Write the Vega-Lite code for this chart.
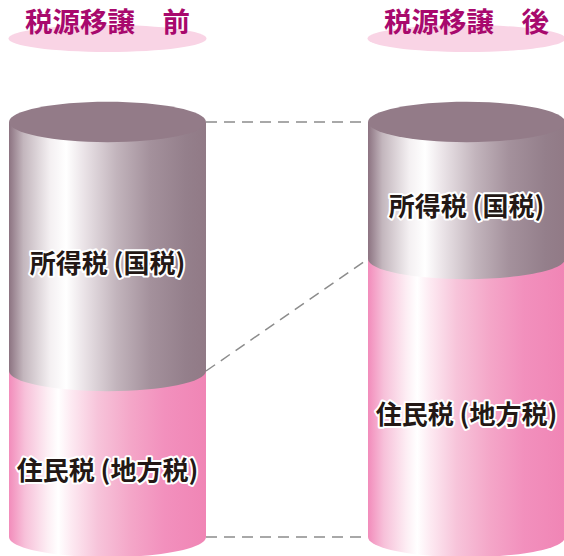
{
  "$schema": "https://vega.github.io/schema/vega-lite/v6.json",
  "width": 564,
  "height": 556,
  "autosize": "none",
  "padding": 0,
  "background": "white",
  "config": {"view": {"stroke": null}},
  "datasets": {
    "taxes": [
      {"stage": "before", "stageLabel": "税源移譲　前", "pos": 0, "kind": "local", "tax": "住民税 (地方税) ", "order": 1, "share": 40},
      {"stage": "before", "stageLabel": "税源移譲　前", "pos": 0, "kind": "national", "tax": "所得税 (国税) ", "order": 2, "share": 60},
      {"stage": "after", "stageLabel": "税源移譲　後", "pos": 1, "kind": "local", "tax": "住民税 (地方税) ", "order": 1, "share": 67},
      {"stage": "after", "stageLabel": "税源移譲　後", "pos": 1, "kind": "national", "tax": "所得税 (国税) ", "order": 2, "share": 33}
    ]
  },
  "data": {"name": "taxes"},
  "transform": [
    {"stack": "share", "groupby": ["stage"], "sort": [{"field": "order"}], "as": ["y0", "y1"]}
  ],
  "layer": [
    {
      "transform": [
        {"fold": ["y0", "y1"], "as": ["edge", "level"]},
        {"filter": "!(datum.kind === 'local' && datum.edge === 'y1')"},
        {"pivot": "stage", "value": "level", "groupby": ["kind", "edge"]}
      ],
      "mark": {"type": "rule", "stroke": "#8c8c8c", "strokeWidth": 1.5, "strokeDash": [11, 7], "xOffset": 98.5, "x2Offset": -98.5},
      "encoding": {
        "x": {"datum": 0, "type": "quantitative", "scale": {"domain": [0, 1], "range": [107.5, 466.5], "padding": 0, "nice": false, "zero": false}, "axis": null},
        "x2": {"datum": 1},
        "y": {"field": "before", "type": "quantitative", "scale": {"domain": [0, 100], "range": [537, 122], "padding": 0, "nice": false, "zero": false}, "axis": null},
        "y2": {"field": "after"}
      }
    },
    {
      "transform": [{"filter": "datum.kind === 'local'"}],
      "mark": {"type": "bar", "width": 197, "fill": {"gradient": "linear", "x1": 0, "x2": 1, "y1": 0, "y2": 0, "stops": [
        {"offset": 0, "color": "#f28cbb"}, {"offset": 0.08, "color": "#f7c0d9"}, {"offset": 0.196, "color": "#fdeef4"},
        {"offset": 0.25, "color": "#ffffff"}, {"offset": 0.315, "color": "#fdeaf2"}, {"offset": 0.45, "color": "#f7c4da"},
        {"offset": 0.62, "color": "#f4a6c8"}, {"offset": 0.79, "color": "#f290bd"}, {"offset": 1, "color": "#f085b5"}]}},
      "encoding": {
        "x": {"field": "pos", "type": "quantitative"},
        "y": {"field": "y0", "type": "quantitative"},
        "y2": {"field": "y1"}
      }
    },
    {
      "transform": [{"filter": "datum.kind === 'local'"}],
      "mark": {"type": "point", "filled": true, "opacity": 1, "strokeWidth": 0, "size": 38809,
        "shape": "M -1 0 C -1 -0.1133 -0.5523 -0.205 0 -0.205 C 0.5523 -0.205 1 -0.1133 1 0 C 1 0.1133 0.5523 0.205 0 0.205 C -0.5523 0.205 -1 0.1133 -1 0 Z",
        "fill": {"gradient": "linear", "x1": 0, "x2": 1, "y1": 0, "y2": 0, "stops": [
        {"offset": 0, "color": "#f28cbb"}, {"offset": 0.08, "color": "#f7c0d9"}, {"offset": 0.196, "color": "#fdeef4"},
        {"offset": 0.25, "color": "#ffffff"}, {"offset": 0.315, "color": "#fdeaf2"}, {"offset": 0.45, "color": "#f7c4da"},
        {"offset": 0.62, "color": "#f4a6c8"}, {"offset": 0.79, "color": "#f290bd"}, {"offset": 1, "color": "#f085b5"}]}},
      "encoding": {
        "x": {"field": "pos", "type": "quantitative"},
        "y": {"field": "y0", "type": "quantitative"}
      }
    },
    {
      "transform": [{"filter": "datum.kind === 'national'"}],
      "mark": {"type": "bar", "width": 197, "fill": {"gradient": "linear", "x1": 0, "x2": 1, "y1": 0, "y2": 0, "stops": [
        {"offset": 0, "color": "#8c7381"}, {"offset": 0.073, "color": "#c3b6bd"}, {"offset": 0.21, "color": "#f4f0f2"},
        {"offset": 0.29, "color": "#ffffff"}, {"offset": 0.377, "color": "#ebe4e8"}, {"offset": 0.547, "color": "#c2b4bc"},
        {"offset": 0.716, "color": "#a4919c"}, {"offset": 0.9, "color": "#947f8b"}, {"offset": 1, "color": "#917a86"}]}},
      "encoding": {
        "x": {"field": "pos", "type": "quantitative"},
        "y": {"field": "y0", "type": "quantitative"},
        "y2": {"field": "y1"}
      }
    },
    {
      "transform": [{"filter": "datum.kind === 'national'"}],
      "mark": {"type": "point", "filled": true, "opacity": 1, "strokeWidth": 0, "size": 38809,
        "shape": "M -1 0 C -1 -0.1133 -0.5523 -0.205 0 -0.205 C 0.5523 -0.205 1 -0.1133 1 0 C 1 0.1133 0.5523 0.205 0 0.205 C -0.5523 0.205 -1 0.1133 -1 0 Z",
        "fill": {"gradient": "linear", "x1": 0, "x2": 1, "y1": 0, "y2": 0, "stops": [
        {"offset": 0, "color": "#8c7381"}, {"offset": 0.073, "color": "#c3b6bd"}, {"offset": 0.21, "color": "#f4f0f2"},
        {"offset": 0.29, "color": "#ffffff"}, {"offset": 0.377, "color": "#ebe4e8"}, {"offset": 0.547, "color": "#c2b4bc"},
        {"offset": 0.716, "color": "#a4919c"}, {"offset": 0.9, "color": "#947f8b"}, {"offset": 1, "color": "#917a86"}]}},
      "encoding": {
        "x": {"field": "pos", "type": "quantitative"},
        "y": {"field": "y0", "type": "quantitative"}
      }
    },
    {
      "transform": [{"filter": "datum.kind === 'national'"}],
      "mark": {"type": "point", "filled": true, "opacity": 1, "strokeWidth": 0, "size": 38809, "fill": "#937b88",
        "shape": "M -1 0 C -1 -0.1133 -0.5523 -0.205 0 -0.205 C 0.5523 -0.205 1 -0.1133 1 0 C 1 0.1133 0.5523 0.205 0 0.205 C -0.5523 0.205 -1 0.1133 -1 0 Z"},
      "encoding": {
        "x": {"field": "pos", "type": "quantitative"},
        "y": {"field": "y1", "type": "quantitative"}
      }
    },
    {
      "transform": [{"calculate": "(datum.y0 + datum.y1) / 2", "as": "mid"}],
      "mark": {"type": "text", "font": "Noto Sans CJK JP", "fontSize": 26, "fontWeight": "bold", "stroke": "white", "strokeWidth": 4, "strokeJoin": "round", "fill": "white", "baseline": "middle", "align": "center", "dy": 18},
      "encoding": {
        "x": {"field": "pos", "type": "quantitative"},
        "y": {"field": "mid", "type": "quantitative"},
        "text": {"field": "tax"}
      }
    },
    {
      "transform": [{"calculate": "(datum.y0 + datum.y1) / 2", "as": "mid"}],
      "mark": {"type": "text", "font": "Noto Sans CJK JP", "fontSize": 26, "fontWeight": "bold", "fill": "#231815", "baseline": "middle", "align": "center", "dy": 18},
      "encoding": {
        "x": {"field": "pos", "type": "quantitative"},
        "y": {"field": "mid", "type": "quantitative"},
        "text": {"field": "tax"}
      }
    },
    {
      "transform": [{"filter": "datum.kind === 'national'"}],
      "mark": {"type": "point", "filled": true, "opacity": 1, "strokeWidth": 0, "size": 39204, "fill": "#f9d4e5",
        "shape": "M -1 0 C -1 -0.0751 -0.5523 -0.136 0 -0.136 C 0.5523 -0.136 1 -0.0751 1 0 C 1 0.0751 0.5523 0.136 0 0.136 C -0.5523 0.136 -1 0.0751 -1 0 Z"},
      "encoding": {
        "x": {"field": "pos", "type": "quantitative"},
        "y": {"datum": 120.1, "type": "quantitative"}
      }
    },
    {
      "transform": [{"filter": "datum.kind === 'national'"}],
      "mark": {"type": "text", "font": "Noto Sans CJK JP", "fontSize": 27.5, "fontWeight": "bold", "fill": "#a8096d", "baseline": "middle", "align": "center", "dy": -15},
      "encoding": {
        "x": {"field": "pos", "type": "quantitative"},
        "y": {"datum": 120.1, "type": "quantitative"},
        "text": {"field": "stageLabel"}
      }
    }
  ]
}
